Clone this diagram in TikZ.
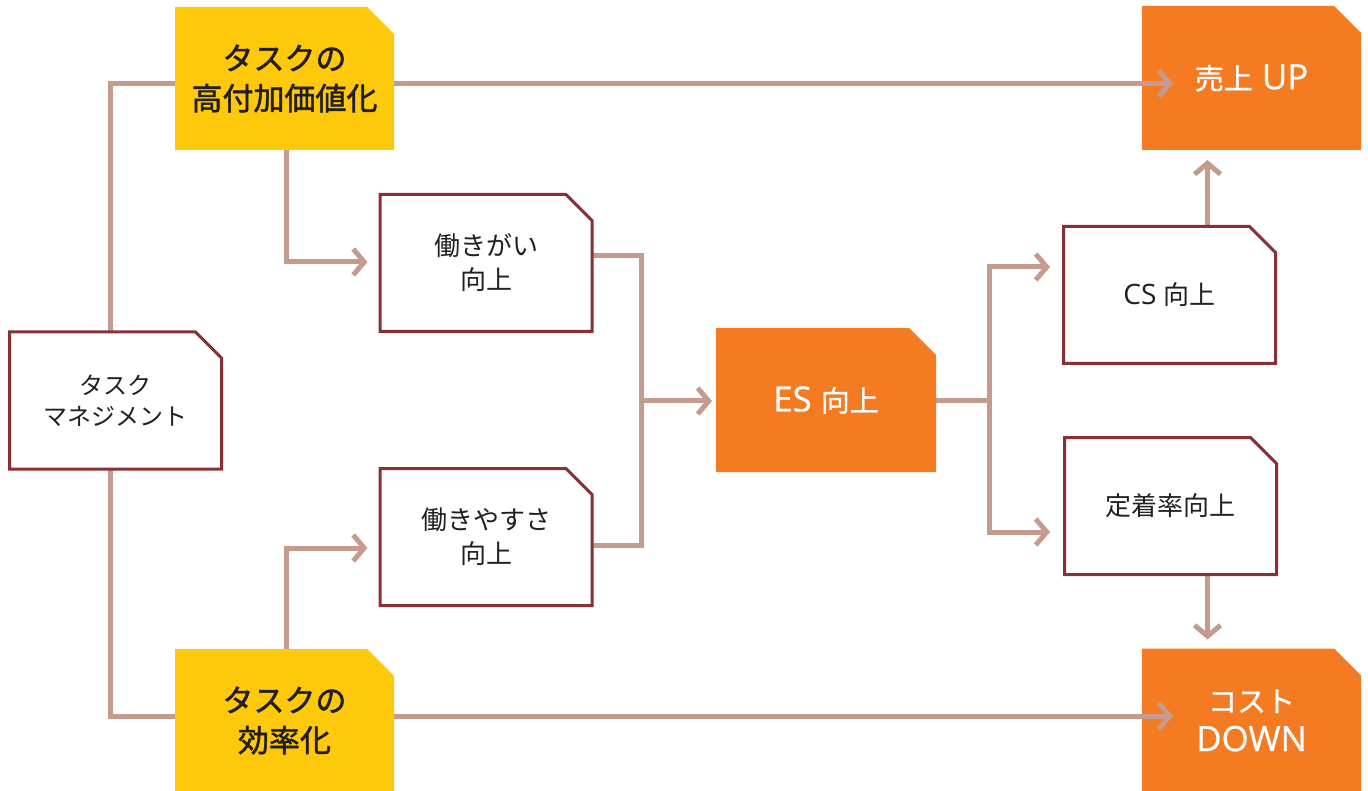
\documentclass[tikz,border=0pt]{standalone}
\usepackage{fontspec}
\setmainfont{Noto Sans CJK JP}
\newfontfamily\jpmed[FakeBold=1.6]{Noto Sans CJK JP}
\newfontfamily\jpsemi[FakeBold=0.8]{Noto Sans CJK JP}
\newfontfamily\latm[Scale=1.2,FakeBold=0.6]{Open Sans}
\newfontfamily\lat[Scale=1.08]{Open Sans}
\usetikzlibrary{arrows.meta}
\pgfdeclarelayer{back}
\pgfdeclarelayer{mid}
\pgfdeclarelayer{front}
\pgfsetlayers{back,mid,main,front}
\definecolor{cyellow}{HTML}{FFC90B}
\definecolor{corange}{HTML}{F47B22}
\definecolor{cborder}{HTML}{8B2F36}
\definecolor{cconn}{HTML}{C59B8E}
\definecolor{ctext}{HTML}{231F20}
\tikzset{
  box/.style={rectangle,inner sep=0pt,outer sep=0pt,align=center},
  ybox/.style={box,minimum width=219pt,minimum height=143pt,text=ctext,
    font=\jpmed\fontsize{31}{40}\selectfont},
  obox/.style={box,minimum width=219pt,minimum height=144pt,text=white,
    font=\jpsemi\fontsize{29}{39}\selectfont},
  wbox/.style={box,minimum width=212pt,minimum height=137pt,text=ctext,
    font=\fontsize{26}{34}\selectfont},
  conn/.style={draw=cconn,line width=5pt},
  arr/.style={-{Straight Barb[length=11pt,width=26pt,sharp]}},
}
\newcommand\cutshape[3]{%
  \begin{pgfonlayer}{mid}
  \path[#2] (#1.south west) -- (#1.north west) -- ([xshift=-#3]#1.north east)
     -- ([yshift=-#3]#1.north east) -- (#1.south east) -- cycle;
  \end{pgfonlayer}}
\begin{document}
\begin{tikzpicture}[x=1pt,y=-1pt]
\useasboundingbox (0,0) rectangle (1368,791);
% nodes
\node[ybox] (y1) at (284.5,78.5) {タスクの\\高付加価値化};
\node[ybox] (y2) at (284.5,720.5) {タスクの\\効率化};
\node[obox] (up) at (1251.5,78) {売上{\latm\ UP}};
\node[obox] (down) at (1251.5,720.5) {コスト\\{\latm DOWN}};
\node[obox,minimum width=220pt] (es) at (826,400) {{\latm ES }向上};
\node[wbox,font=\fontsize{24}{31}\selectfont] (mgmt) at (115.5,400.5) {タスク\\マネジメント};
\node[wbox] (gai) at (486,263) {働きがい\\向上};
\node[wbox] (yasu) at (486,537) {働きやすさ\\向上};
\node[wbox] (cs) at (1169.5,295) {{\lat CS }向上};
\node[wbox] (tei) at (1170.5,506) {定着率向上};
% shapes
\cutshape{y1}{fill=cyellow}{27pt}
\cutshape{y2}{fill=cyellow}{27pt}
\cutshape{up}{fill=corange}{27pt}
\cutshape{down}{fill=corange}{27pt}
\cutshape{es}{fill=corange}{27pt}
\foreach \n in {mgmt,gai,yasu,cs,tei}{
  \cutshape{\n}{fill=white,draw=cborder,line width=3pt}{26pt}
}
% helper coordinates
\coordinate (a1) at (110,83.5);
\coordinate (a2) at (110,716);
\coordinate (t1) at (1173,83.5);
\coordinate (t2) at (1173,716);
\coordinate (b1) at (286.5,262);
\coordinate (b2) at (286.5,548);
\coordinate (j1) at (641,401);
\coordinate (g1) at (641,256);
\coordinate (g2) at (641,545);
\coordinate (j2) at (989,401);
\coordinate (k1) at (989,267);
\coordinate (k2) at (989,532);
\coordinate (u1) at (1207.5,160);
% connectors
\begin{pgfonlayer}{back}
\draw[conn] (mgmt.north -| a1) |- (y1.west |- a1);
\draw[conn] (mgmt.south -| a2) |- (y2.west |- a2);
\draw[conn,arr,shorten >=12.5pt] (y1.south -| b1) |- (gai.west |- b1);
\draw[conn,arr,shorten >=12.5pt] (y2.north -| b2) |- (yasu.west |- b2);
\draw[conn] (gai.east |- g1) -| (j1) |- (yasu.east |- g2);
\draw[conn,arr,shorten >=4pt] (j1) -- (es.west |- j1);
\draw[conn] (es.east |- j2) -- (j2);
\draw[conn,arr,shorten >=13.5pt] (j2) |- (cs.west |- k1);
\draw[conn,arr,shorten >=14.5pt] (j2) |- (tei.west |- k2);
\draw[conn,arr,shorten >=10pt] (cs.north -| u1) -- (up.south -| u1);
\draw[conn,arr,shorten >=9pt] (tei.south -| u1) -- (down.north -| u1);
\end{pgfonlayer}
\begin{pgfonlayer}{front}
\draw[conn,arr] (y1.east |- a1) -- (t1);
\draw[conn,arr] (y2.east |- a2) -- (t2);
\end{pgfonlayer}
\end{tikzpicture}
\end{document}
